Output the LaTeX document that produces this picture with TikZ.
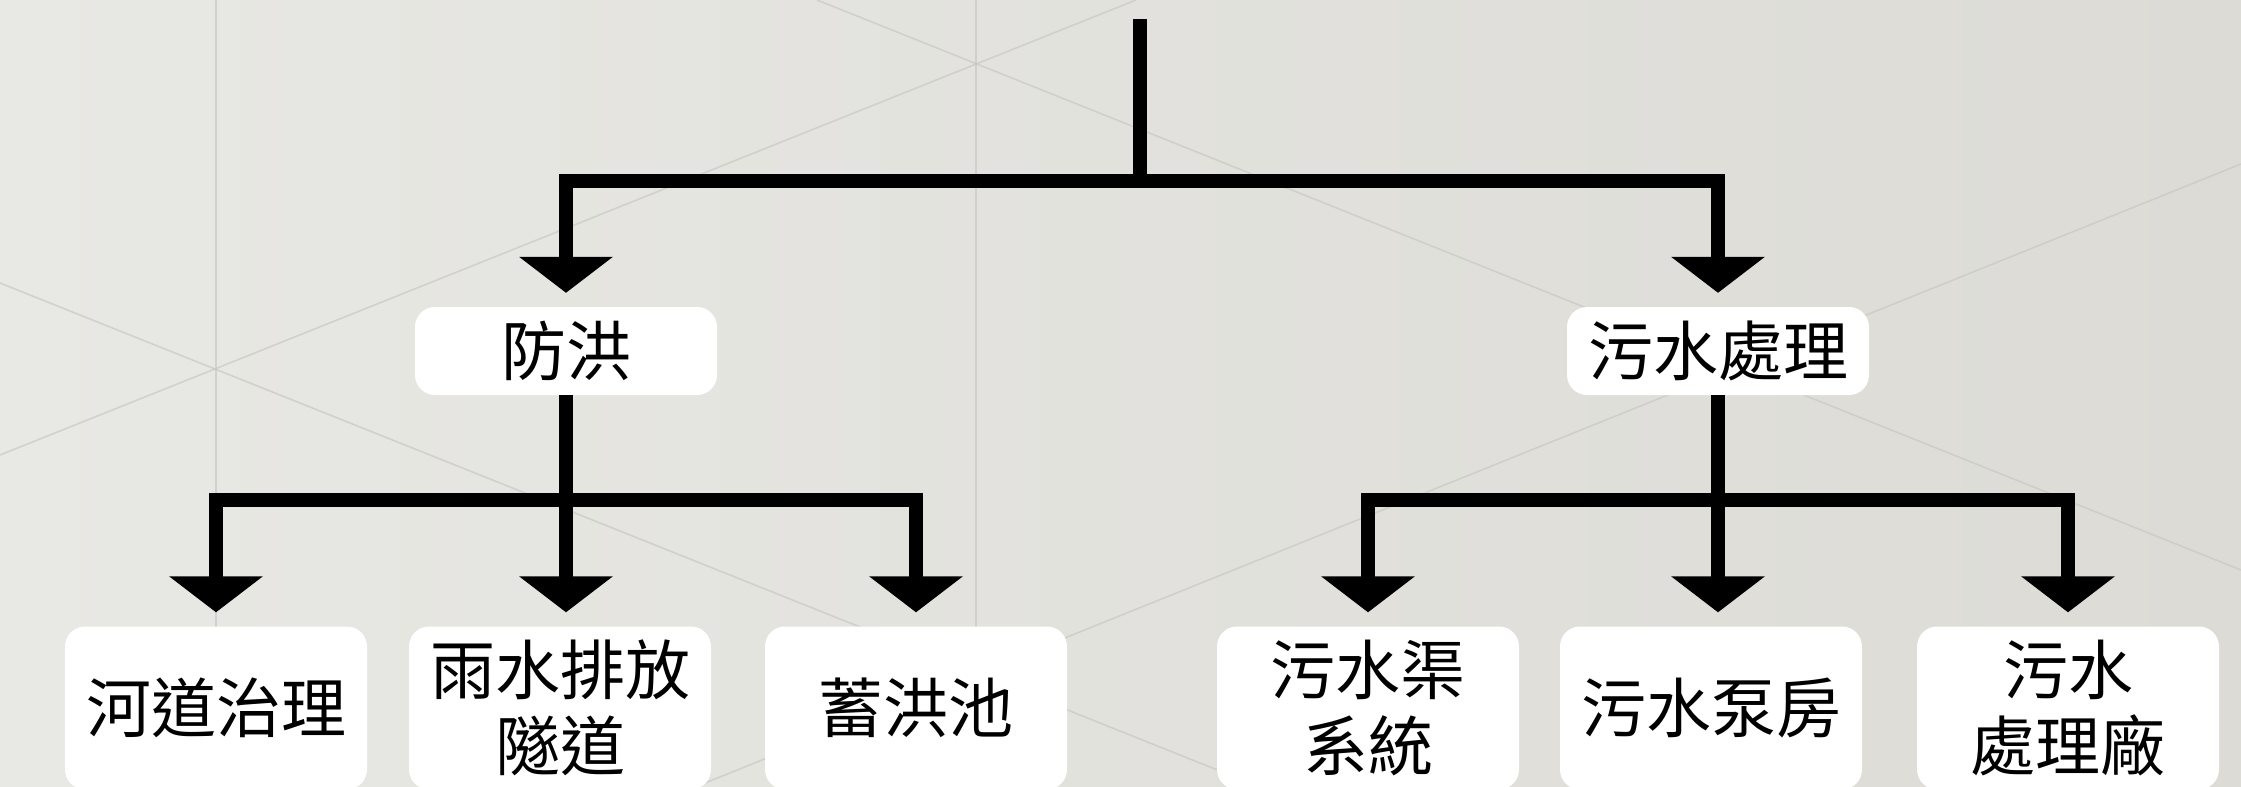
\documentclass[tikz,border=0pt]{standalone}
\usepackage{fontspec}
\newfontfamily\cjk{Noto Sans CJK TC}
\usetikzlibrary{arrows.meta}
\definecolor{bgL}{HTML}{E8E8E4}
\definecolor{bgR}{HTML}{DCDBD6}
\definecolor{tile}{HTML}{C9C9C4}
\tikzset{
  box/.style={fill=white, rounded corners=20pt, inner sep=0pt,
    minimum width=302pt, font=\cjk\fontsize{65}{76}\selectfont, align=center, text=black},
  topbox/.style={box, minimum height=88pt},
  leafbox/.style={box, minimum height=163pt},
  conn/.style={draw=black, line width=14pt, line join=miter, line cap=butt},
  arr/.style={conn, -{Triangle[width=92pt,length=36pt]}, shorten >=14pt},
  tileline/.style={draw=tile, line width=1.6pt, opacity=0.7}
}
\begin{document}
\begin{tikzpicture}[x=1pt,y=-1pt]
\useasboundingbox (0,0) rectangle (2241,787);
\begin{scope}
\clip (0,0) rectangle (2241,787);
\fill[left color=bgL, right color=bgR] (0,0) rectangle (2241,787);
% faint tile lines of the background
\draw[tileline] (216,0) -- (216,787);
\draw[tileline] (976,0) -- (976,787);
\draw[tileline] (817,0) -- (2241,570);
\draw[tileline] (695,787) -- (2241,164);
\draw[tileline] (0,455) -- (1136,0);
\draw[tileline] (0,283) -- (1260,787);

% nodes
\node[topbox] (f) at (566,351) {防洪};
\node[topbox] (w) at (1718,351) {污水處理};
\node[leafbox] (b1) at (216,708) {河道治理};
\node[leafbox] (b2) at (560,708) {雨水排放\\隧道};
\node[leafbox] (b3) at (916,708) {蓄洪池};
\node[leafbox] (b4) at (1368,708) {污水渠\\系統};
\node[leafbox] (b5) at (1711,708) {污水泵房};
\node[leafbox] (b6) at (2068,708) {污水\\處理廠};

\coordinate (top) at (1140,19);
\coordinate (j1) at (1140,181);
\coordinate (j2) at (566,500);
\coordinate (j3) at (1718,500);

% connectors
\draw[conn] (top) -- (j1);
\draw[arr] (j1) -| (f.north);
\draw[arr] (j1) -| (w.north);

\draw[conn] (f.south) -- (j2);
\draw[arr] (j2) -| (b1.north);
\draw[arr] (j2) -| (b3.north);
\draw[arr] (j2) -- (j2 |- b2.north);

\draw[conn] (w.south) -- (j3);
\draw[arr] (j3) -| (b4.north);
\draw[arr] (j3) -| (b6.north);
\draw[arr] (j3) -- (j3 |- b5.north);
\end{scope}
\end{tikzpicture}
\end{document}
